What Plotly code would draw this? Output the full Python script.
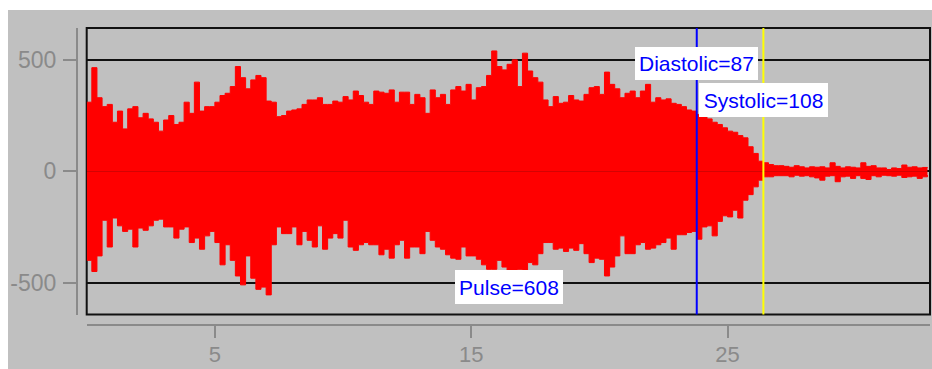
import plotly.graph_objects as go

# ---- data ----
t_start = 0.0
t_step = 0.2
upper = [
    310, 465, 330, 290, 300, 220, 270, 190, 280, 290, 240, 260, 235, 220, 180, 230, 250,
    210, 220, 310, 260, 400, 270, 290, 290, 310, 340, 350, 380, 470, 420, 370, 410, 430,
    420, 315, 310, 245, 250, 270, 275, 280, 300, 320, 320, 330, 300, 300, 315, 310, 335,
    320, 360, 340, 310, 300, 360, 355, 350, 365, 310, 355, 355, 300, 345, 330, 260, 365,
    330, 345, 300, 365, 380, 360, 390, 320, 375, 380, 430, 540, 470, 455, 480, 500, 380,
    530, 450, 420, 400, 320, 290, 335, 305, 310, 340, 320, 315, 345, 375, 380, 345, 445,
    390, 370, 330, 350, 360, 330, 360, 390, 310, 330, 320, 325, 305, 300, 290, 275, 270,
    255, 245, 235, 220, 210, 195, 180, 175, 160, 150, 110, 80, 45, 38, 30, 25, 25,
    22, 18, 25, 20, 15, 20, 18, 20, 15, 38, 22, 15, 20, 18, 15, 38, 22, 25, 15, 15, 8,
    15, 12, 28, 18, 20, 15, 17, 15,
]
lower = [
    -400, -450, -380, -220, -340, -210, -245, -270, -260, -340, -255, -265, -245, -220, -215, -250, -250,
    -300, -260, -250, -320, -300, -350, -290, -270, -320, -420, -330, -400, -470, -510, -380, -480, -530,
    -520, -555, -330, -250, -280, -280, -250, -330, -270, -310, -340, -245, -350, -300, -280, -300, -220,
    -340, -355, -330, -320, -330, -330, -375, -350, -390, -330, -310, -390, -340, -340, -370, -270, -310,
    -340, -350, -375, -390, -395, -340, -380, -380, -395, -420, -440, -440, -400, -430, -450, -445, -440,
    -445, -410, -420, -370, -320, -320, -350, -345, -360, -345, -355, -325, -370, -410, -390, -395, -470,
    -430, -380, -290, -370, -370, -330, -320, -350, -345, -330, -320, -300, -350, -285, -285, -275, -270,
    -305, -250, -245, -290, -225, -200, -205, -175, -210, -130, -105, -70, -40, -25, -25, -20, -20,
    -20, -25, -18, -22, -20, -25, -30, -40, -22, -20, -47, -25, -22, -32, -20, -32, -37, -20, -25, -18, -20,
    -22, -18, -28, -25, -22, -32, -25, -17,
]
diastolic_t = 23.8
systolic_t = 26.4
label_texts = ["Diastolic=87", "Systolic=108", "Pulse=608"]
x_tick_vals = [5, 15, 25]
y_tick_vals = [-500, 0, 500]
y_tick_text = ["-500", "0", "500"]

t = [round(t_start + i * t_step, 2) for i in range(len(upper))]

GREY_BG = "#c0c0c0"
AXIS_GREY = "#8a8a8a"
Y_TICK_FONT = dict(family="Liberation Sans Narrow, Liberation Sans, Arial", size=23, color=AXIS_GREY)
X_TICK_FONT = dict(family="Liberation Sans Narrow, Liberation Sans, Arial", size=22, color=AXIS_GREY)
LABEL_FONT = dict(family="Liberation Sans, Arial", size=21, color="#0000ff")

fig = go.Figure()
for edge in (upper, lower):
    fig.add_trace(go.Scatter(
        x=t, y=edge, mode="lines", fill="tozeroy", line_shape="hv",
        fillcolor="#ff0000", line=dict(color="#ff0000", width=1),
        hoverinfo="skip", showlegend=False,
    ))

W, H = 932, 369
ML, MR, MT, MB = 77, 2, 28, 44
PW, PH = float(W - ML - MR), float(H - MT - MB)   # 853 x 297


def px_x(p):
    return (p - ML) / PW


def px_y(p):
    return (H - MB - p) / PH


fig.update_layout(
    width=W, height=H, autosize=False,
    margin=dict(l=ML, r=MR, t=MT, b=MB, pad=0, autoexpand=False),
    paper_bgcolor=GREY_BG,
    plot_bgcolor=GREY_BG,
    showlegend=False,
    xaxis=dict(
        domain=[px_x(86.7), 1], range=[0, 32.9],
        anchor="free", position=0,
        showline=True, linecolor=AXIS_GREY, linewidth=2,
        ticks="outside", ticklen=12, tickwidth=2, tickcolor=AXIS_GREY,
        tickvals=x_tick_vals, tickfont=X_TICK_FONT, ticklabelstandoff=-2,
        showgrid=False, zeroline=False,
    ),
    yaxis=dict(
        domain=[px_y(314.5), 1], range=[-643, 643],
        anchor="free", position=0,
        showline=True, linecolor=AXIS_GREY, linewidth=2,
        ticks="outside", ticklen=13, tickwidth=2, tickcolor=AXIS_GREY,
        tickvals=y_tick_vals, ticktext=y_tick_text, tickfont=Y_TICK_FONT, ticklabelstandoff=2,
        showgrid=True, gridcolor="#111111", gridwidth=2, zeroline=False,
    ),
)

shapes = [
    # white strips at the top and left of the window
    dict(type="rect", xref="paper", yref="paper",
         x0=px_x(-5), x1=px_x(W + 5), y0=px_y(10), y1=px_y(-5),
         fillcolor="white", line=dict(width=0), layer="below"),
    dict(type="rect", xref="paper", yref="paper",
         x0=px_x(-5), x1=px_x(8), y0=px_y(H + 5), y1=px_y(-5),
         fillcolor="white", line=dict(width=0), layer="below"),
    # plot frame
    dict(type="rect", xref="x domain", yref="y domain", x0=0, x1=1, y0=0, y1=1,
         line=dict(color="#111111", width=2), fillcolor="rgba(0,0,0,0)", layer="below"),
    # diastolic / systolic markers
    dict(type="line", xref="x", yref="y domain", x0=diastolic_t, x1=diastolic_t, y0=0, y1=1,
         line=dict(color="#0000ff", width=2), layer="above"),
    dict(type="line", xref="x", yref="y domain", x0=systolic_t, x1=systolic_t, y0=0, y1=1,
         line=dict(color="#ffff00", width=2), layer="above"),
]
fig.update_layout(shapes=shapes)

ann_common = dict(xref="x", yref="y", showarrow=False, bgcolor="white",
                  borderpad=2, borderwidth=0, font=LABEL_FONT,
                  xanchor="center", yanchor="middle", align="center")
fig.add_annotation(text=label_texts[0], x=diastolic_t, y=482, width=119, height=29, **ann_common)
fig.add_annotation(text=label_texts[1], x=systolic_t, y=320, width=125, height=30, **ann_common)
fig.add_annotation(text=label_texts[2], x=16.46, y=-520, width=104, height=30, **ann_common)

# remove the default page margin so the figure fills the window exactly
post = ("document.body.style.margin='0';document.body.style.overflow='hidden';"
        "var gd=document.getElementById('{plot_id}');"
        "gd.style.width='932px';gd.style.height='369px';"
        "Plotly.Plots.resize(gd);")

fig.write_html("out.html", post_script=post,
               config={"displayModeBar": False, "staticPlot": True})
